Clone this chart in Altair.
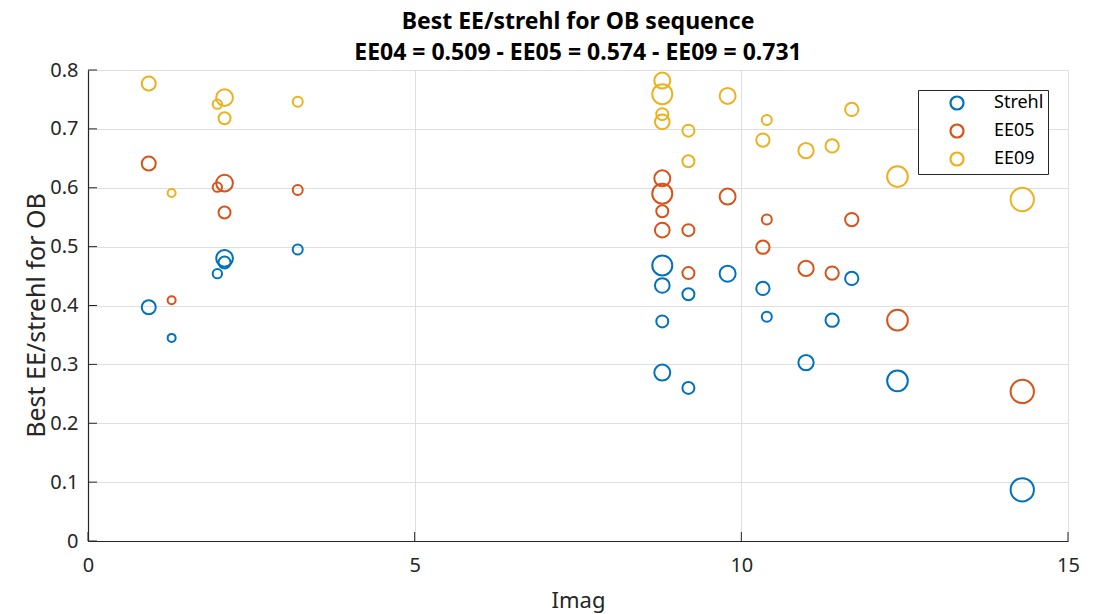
import altair as alt
import pandas as pd

# ---- data ----
imag = [0.93, 1.28, 1.98, 2.09, 2.09, 3.21,
        8.79, 8.79, 8.79, 8.79, 9.19, 9.19, 9.79,
        10.33, 10.39, 10.99, 11.39, 11.69, 12.39, 14.30]
strehl = [0.397, 0.345, 0.454, 0.480, 0.473, 0.495,
          0.468, 0.286, 0.373, 0.434, 0.419, 0.260, 0.454,
          0.429, 0.381, 0.303, 0.375, 0.446, 0.272, 0.087]
ee05 = [0.641, 0.409, 0.601, 0.608, 0.558, 0.596,
        0.590, 0.616, 0.560, 0.528, 0.528, 0.455, 0.585,
        0.499, 0.546, 0.463, 0.455, 0.546, 0.375, 0.254]
ee09 = [0.777, 0.591, 0.742, 0.753, 0.718, 0.746,
        0.759, 0.782, 0.725, 0.712, 0.697, 0.645, 0.756,
        0.681, 0.715, 0.663, 0.671, 0.733, 0.619, 0.580]
marker_area = [196, 64, 87, 278, 144, 100,
               400, 256, 144, 215, 144, 144, 256,
               177, 100, 234, 177, 177, 428, 543]

series_names = ["Strehl", "EE05", "EE09"]
series_colors = ["#0072BD", "#D95319", "#EDB120"]
x_ticks = [0, 5, 10, 15]
y_ticks = [0, 0.1, 0.2, 0.3, 0.4, 0.5, 0.6, 0.7, 0.8]
title_lines = ["Best EE/strehl for OB sequence",
               "EE04 = 0.509 - EE05 = 0.574 - EE09 = 0.731"]

rows = []
for name, vals in zip(series_names, [strehl, ee05, ee09]):
    for xi, yi, si in zip(imag, vals, marker_area):
        rows.append({"Imag": xi, "value": yi, "series": name, "size": si})
df = pd.DataFrame(rows)

W, H = 980, 471
FONT = "Noto Sans"
TXT = "#262626"

xscale = alt.Scale(domain=[0, 15], nice=False, zero=False)
yscale = alt.Scale(domain=[0, 0.8], nice=False, zero=False)

points = alt.Chart(df).mark_point(shape="circle", filled=False, strokeWidth=2, opacity=1).encode(
    x=alt.X("Imag:Q", scale=xscale,
            axis=alt.Axis(values=x_ticks, title="Imag", grid=True, ticks=False,
                          labelPadding=14, format="d", labelFlush=False,
                          titleBaseline="alphabetic", titleY=66, titleFontSize=22)),
    y=alt.Y("value:Q", scale=yscale,
            axis=alt.Axis(values=y_ticks, title="Best EE/strehl for OB", grid=True, ticks=False,
                          labelPadding=10, labelFlush=False,
                          labelExpr="datum.value == 0 ? '0' : format(datum.value, '.1f')",
                          titleBaseline="alphabetic", titleX=-44, titleY=245,
                          titleAngle=270, titleAlign="center", titleFontSize=25)),
    color=alt.Color("series:N",
                    scale=alt.Scale(domain=series_names, range=series_colors),
                    legend=alt.Legend(title=None, orient="none", legendX=830, legendY=20,
                                      symbolType="circle", symbolFillColor="white",
                                      symbolStrokeWidth=2.2, symbolSize=170,
                                      labelFontSize=18, labelFont=FONT, labelColor="#000000",
                                      strokeColor="#262626", fillColor="white",
                                      padding=4, rowPadding=6, symbolOffset=26,
                                      labelOffset=28)),
    size=alt.Size("size:Q", scale=None, legend=None),
)

xt = pd.DataFrame({"t": x_ticks})
yt = pd.DataFrame({"t": y_ticks})
xtick_marks = alt.Chart(xt).mark_rule(color=TXT, strokeWidth=1).encode(
    x=alt.X("t:Q", scale=xscale), y=alt.value(H), y2=alt.value(H - 9))
ytick_marks = alt.Chart(yt).mark_rule(color=TXT, strokeWidth=1).encode(
    y=alt.Y("t:Q", scale=yscale), x=alt.value(0), x2=alt.value(9))

chart = alt.layer(points, xtick_marks, ytick_marks).properties(
    width=W, height=H,
    title=alt.TitleParams(text=title_lines, fontSize=23, font=FONT, fontWeight="bold",
                          color="#000000", anchor="middle", offset=-5, lineHeight=31,
                          frame="group"),
    autosize=alt.AutoSizeParams(type="none"),
    padding={"left": 80, "top": 62, "right": 16, "bottom": 76},
).configure_view(stroke=None).configure_axis(
    labelFont=FONT, titleFont=FONT, labelFontSize=20,
    labelColor=TXT, titleColor=TXT, titleFontWeight="normal",
    domainColor=TXT, domainWidth=1.2, gridColor="#dfdfdf", gridWidth=1,
)

chart.save("out.html", embed_options={"renderer": "svg", "actions": False})
